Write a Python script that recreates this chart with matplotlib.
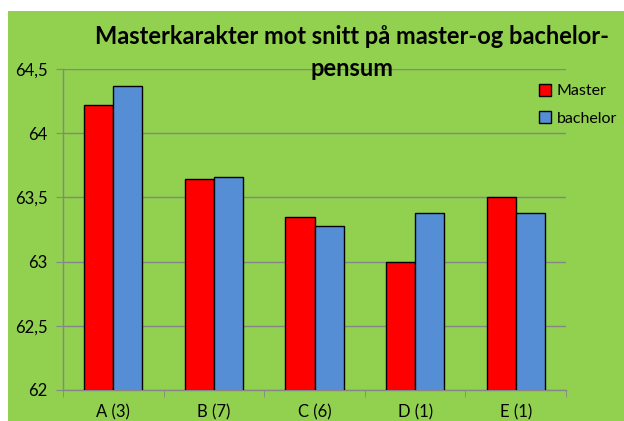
import matplotlib
matplotlib.use('Agg')
import matplotlib.pyplot as plt
from matplotlib.patches import Rectangle
import numpy as np

# data
categories = ['A (3)', 'B (7)', 'C (6)', 'D (1)', 'E (1)']
master = [64.22, 63.64, 63.35, 63.00, 63.50]
bachelor = [64.37, 63.66, 63.28, 63.38, 63.38]
yticks = [62, 62.5, 63, 63.5, 64, 64.5]
ytick_labels = ['62', '62,5', '63', '63,5', '64', '64,5']

plt.rcParams['font.family'] = ['Lato', 'DejaVu Sans']

green = '#92D050'
fig = plt.figure(figsize=(6.24, 4.21), dpi=100)
fig.patch.set_facecolor('white')
bg = Rectangle((8/624, 0), 1, 1 - 11/421, transform=fig.transFigure,
               facecolor=green, edgecolor='none', zorder=-10)
fig.add_artist(bg)

ax = fig.add_axes([63/624, 1 - 390/421, (566-63)/624, (390-69)/421])
ax.set_facecolor('none')

x = np.arange(len(categories))
w = 0.29
ax.bar(x - w/2, master, w, color='#FF0000', edgecolor='black', linewidth=1, label='Master', zorder=3)
ax.bar(x + w/2, bachelor, w, color='#558ED5', edgecolor='black', linewidth=1, label='bachelor', zorder=3)

ax.set_ylim(62, 64.5)
ax.set_xlim(-0.5, len(categories) - 0.5)
ax.set_yticks(yticks)
ax.set_yticklabels(ytick_labels, fontsize=12)
ax.set_xticks(x)
ax.set_xticklabels(categories, fontsize=12)
ax.set_xticks(np.arange(-0.5, len(categories)), minor=True)
ax.tick_params(axis='x', which='major', length=0, pad=10)
ax.tick_params(axis='x', which='minor', length=5, color='#868686')
ax.tick_params(axis='y', length=5, color='#868686', pad=6)
ax.grid(axis='y', color='#868686', linewidth=1, zorder=1)
for s in ['top', 'right']:
    ax.spines[s].set_visible(False)
for s in ['left', 'bottom']:
    ax.spines[s].set_color('#868686')
    ax.spines[s].set_linewidth(1)

fig.text(352/624, 1 - 37/421, 'Masterkarakter mot snitt på master-og bachelor-',
         ha='center', va='center', fontsize=17, fontweight='bold')
fig.text(352/624, 1 - 68/421, 'pensum',
         ha='center', va='center', fontsize=17, fontweight='bold', zorder=5)

ax.legend(loc='upper left', bbox_to_anchor=(539/624, 1 - 84/421), bbox_transform=fig.transFigure,
          frameon=False, fontsize=11.5, handlelength=0.75, handleheight=0.75, handletextpad=0.35,
          labelspacing=0.8, borderpad=0, borderaxespad=0)

fig.savefig('out.png', dpi=100)
